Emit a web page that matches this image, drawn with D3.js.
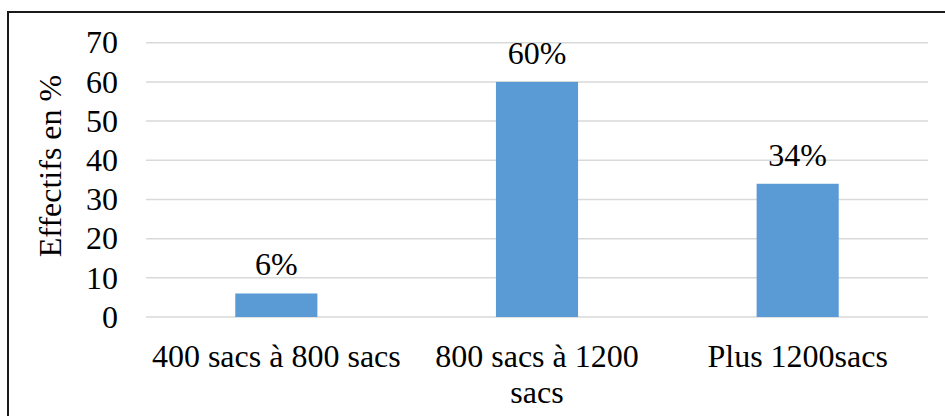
<!DOCTYPE html>
<html>
<head>
<meta charset="utf-8">
<script src="https://cdn.jsdelivr.net/npm/d3@7"></script>
<style>
  html, body { margin: 0; padding: 0; background: #fff; }
  svg { display: block; }
  text { font-family: "Times New Roman", "Liberation Serif", Tinos, serif; fill: #000; }
</style>
</head>
<body>
<svg id="chart" width="945" height="416"></svg>
<script>
// Répartition des effectifs selon la production (sacs)
const categories = ["400 sacs à 800 sacs", "800 sacs à 1200 sacs", "Plus 1200sacs"];
const values = [6, 60, 34];
const valueLabels = ["6%", "60%", "34%"];
const yTicks = [0, 10, 20, 30, 40, 50, 60, 70];
const yTitle = "Effectifs en %";

const W = 945, H = 416;
const plot = { left: 146, right: 928, top: 42.7, bottom: 317 };
const fontSize = 32;
const serif = '"Times New Roman", "Liberation Serif", Tinos, serif';

const svg = d3.select("#chart");

// Frame around the chart (only top and left edges fall inside the view)
svg.append("rect")
  .attr("x", 8).attr("y", 12)
  .attr("width", W + 20).attr("height", H + 20)
  .attr("fill", "none")
  .attr("stroke", "#1a1a1a")
  .attr("stroke-width", 2);

const x = d3.scaleBand()
  .domain(categories)
  .range([plot.left, plot.right])
  .paddingInner(0.685)
  .paddingOuter(0.685 / 2);

const y = d3.scaleLinear()
  .domain([0, 70])
  .range([plot.bottom, plot.top]);

// Horizontal gridlines
svg.append("g")
  .selectAll("line")
  .data(yTicks)
  .join("line")
  .attr("x1", plot.left).attr("x2", plot.right)
  .attr("y1", d => y(d)).attr("y2", d => y(d))
  .attr("stroke", "#d9d9d9")
  .attr("stroke-width", 1.5);

// Y axis tick labels
const yAxis = d3.axisLeft(y).tickValues(yTicks).tickSize(0).tickPadding(28);
const gy = svg.append("g")
  .attr("transform", `translate(${plot.left},0)`)
  .call(yAxis);
gy.attr("font-family", serif);
gy.select(".domain").remove();
gy.selectAll("text")
  .attr("font-size", fontSize)
  .attr("fill", "#000");

// Bars
svg.append("g")
  .selectAll("rect")
  .data(values)
  .join("rect")
  .attr("x", (d, i) => x(categories[i]))
  .attr("y", d => y(d))
  .attr("width", x.bandwidth())
  .attr("height", d => y(0) - y(d))
  .attr("fill", "#5b9bd5");

// Value labels above bars
svg.append("g")
  .selectAll("text")
  .data(values)
  .join("text")
  .attr("x", (d, i) => x(categories[i]) + x.bandwidth() / 2)
  .attr("y", d => y(d) - 18)
  .attr("text-anchor", "middle")
  .attr("font-size", fontSize)
  .text((d, i) => valueLabels[i]);

// Category labels, wrapped to the band width
const maxLabelWidth = 252;
const lineGap = 35.5;
const gx = svg.append("g");
categories.forEach(cat => {
  const cx = x(cat) + x.bandwidth() / 2;
  const t = gx.append("text")
    .attr("x", cx)
    .attr("y", plot.bottom + 50)
    .attr("text-anchor", "middle")
    .attr("font-size", fontSize);
  const words = cat.split(" ");
  let line = [];
  let tspan = t.append("tspan").attr("x", cx).attr("dy", 0);
  words.forEach(w => {
    line.push(w);
    tspan.text(line.join(" "));
    if (tspan.node().getComputedTextLength() > maxLabelWidth && line.length > 1) {
      line.pop();
      tspan.text(line.join(" "));
      line = [w];
      tspan = t.append("tspan").attr("x", cx).attr("dy", lineGap).text(w);
    }
  });
});

// Y axis title
svg.append("text")
  .attr("transform", "translate(61,166) rotate(-90)")
  .attr("text-anchor", "middle")
  .attr("font-size", fontSize)
  .text(yTitle);
</script>
</body>
</html>
